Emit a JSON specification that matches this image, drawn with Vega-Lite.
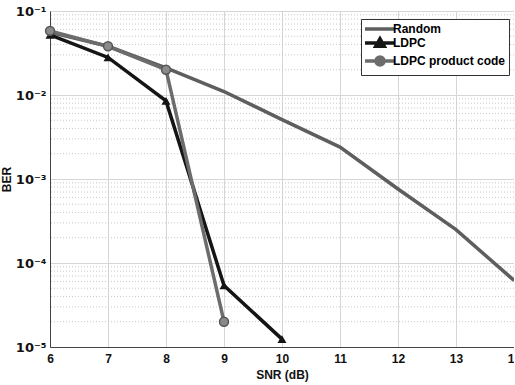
{
  "$schema": "https://vega.github.io/schema/vega-lite/v6.json",
  "autosize": "none",
  "padding": {"left": 50, "top": 11, "right": 0, "bottom": 38},
  "width": 464,
  "height": 336,
  "background": "white",
  "config": {
    "view": {"stroke": "#444", "strokeWidth": 1},
    "font": "Liberation Sans"
  },
  "datasets": {
    "ber": [
      {"snr": 6, "ber": 0.056, "series": "Random"},
      {"snr": 7, "ber": 0.038, "series": "Random"},
      {"snr": 8, "ber": 0.021, "series": "Random"},
      {"snr": 9, "ber": 0.011, "series": "Random"},
      {"snr": 10, "ber": 0.0051, "series": "Random"},
      {"snr": 11, "ber": 0.0024, "series": "Random"},
      {"snr": 12, "ber": 0.00076, "series": "Random"},
      {"snr": 13, "ber": 0.00025, "series": "Random"},
      {"snr": 14, "ber": 0.000062, "series": "Random"},
      {"snr": 6, "ber": 0.052, "series": "LDPC"},
      {"snr": 7, "ber": 0.028, "series": "LDPC"},
      {"snr": 8, "ber": 0.0085, "series": "LDPC"},
      {"snr": 9, "ber": 0.000054, "series": "LDPC"},
      {"snr": 10, "ber": 0.0000124, "series": "LDPC"},
      {"snr": 6, "ber": 0.058, "series": "LDPC product code"},
      {"snr": 7, "ber": 0.038, "series": "LDPC product code"},
      {"snr": 8, "ber": 0.020, "series": "LDPC product code"},
      {"snr": 9, "ber": 0.00002, "series": "LDPC product code"}
    ],
    "minor": [
      {"v": 0.00002}, {"v": 0.00003}, {"v": 0.00004}, {"v": 0.00005}, {"v": 0.00006}, {"v": 0.00007}, {"v": 0.00008}, {"v": 0.00009},
      {"v": 0.0002}, {"v": 0.0003}, {"v": 0.0004}, {"v": 0.0005}, {"v": 0.0006}, {"v": 0.0007}, {"v": 0.0008}, {"v": 0.0009},
      {"v": 0.002}, {"v": 0.003}, {"v": 0.004}, {"v": 0.005}, {"v": 0.006}, {"v": 0.007}, {"v": 0.008}, {"v": 0.009},
      {"v": 0.02}, {"v": 0.03}, {"v": 0.04}, {"v": 0.05}, {"v": 0.06}, {"v": 0.07}, {"v": 0.08}, {"v": 0.09}
    ]
  },
  "layer": [
    {
      "data": {"name": "minor"},
      "mark": {"type": "rule", "stroke": "#c8c8c8", "strokeWidth": 1, "strokeDash": [1, 2]},
      "encoding": {
        "y": {"field": "v", "type": "quantitative", "scale": {"type": "log", "domain": [0.00001, 0.1]}}
      }
    },
    {
      "data": {"name": "ber"},
      "mark": {"type": "line", "strokeWidth": 3.5, "clip": true},
      "encoding": {
        "x": {
          "field": "snr", "type": "quantitative",
          "scale": {"domain": [6, 14], "nice": false, "zero": false},
          "axis": {
            "title": "SNR (dB)", "values": [6, 7, 8, 9, 10, 11, 12, 13, 14], "format": "d",
            "grid": true, "gridColor": "#d6d6d6", "gridWidth": 1,
            "domainColor": "#444", "tickColor": "#444", "tickSize": 0,
            "labelFont": "Liberation Sans", "labelFontWeight": "bold", "labelFontSize": 12, "labelColor": "#111",
            "labelPadding": 6, "labelFlush": false, "labelOverlap": false,
            "titleFont": "Liberation Sans", "titleFontWeight": "bold", "titleFontSize": 12, "titleColor": "#111",
            "titlePadding": 5
          }
        },
        "y": {
          "field": "ber", "type": "quantitative",
          "scale": {"type": "log", "domain": [0.00001, 0.1]},
          "axis": {
            "title": "BER", "values": [0.00001, 0.0001, 0.001, 0.01, 0.1],
            "labelExpr": "datum.value >= 0.09 ? '10⁻¹' : datum.value >= 0.009 ? '10⁻²' : datum.value >= 0.0009 ? '10⁻³' : datum.value >= 0.00009 ? '10⁻⁴' : '10⁻⁵'",
            "grid": true, "gridColor": "#d6d6d6", "gridWidth": 1,
            "domainColor": "#444", "tickColor": "#444", "tickSize": 0,
            "labelFont": "DejaVu Sans", "labelFontWeight": "bold", "labelFontSize": 13, "labelColor": "#111",
            "labelPadding": 4, "labelFlush": false, "labelOverlap": false,
            "titleFont": "Liberation Sans", "titleFontWeight": "bold", "titleFontSize": 12, "titleColor": "#111",
            "titlePadding": 2
          }
        },
        "color": {
          "field": "series", "type": "nominal",
          "scale": {"domain": ["Random", "LDPC", "LDPC product code"], "range": ["#5e5e5e", "#151515", "#6c6c6c"]}
        },
        "order": {"field": "snr"}
      }
    },
    {
      "data": {"name": "ber"},
      "transform": [{"filter": "datum.series == 'LDPC'"}],
      "mark": {"type": "point", "shape": "triangle-up", "filled": true, "size": 80, "color": "#151515", "opacity": 1},
      "encoding": {
        "x": {"field": "snr", "type": "quantitative"},
        "y": {"field": "ber", "type": "quantitative"}
      }
    },
    {
      "data": {"name": "ber"},
      "transform": [{"filter": "datum.series == 'LDPC product code'"}],
      "mark": {"type": "point", "shape": "circle", "filled": true, "size": 80, "fill": "#8a8a8a", "stroke": "#555", "strokeWidth": 1.5, "opacity": 1},
      "encoding": {
        "x": {"field": "snr", "type": "quantitative"},
        "y": {"field": "ber", "type": "quantitative"}
      }
    },
    {
      "data": {"name": "ber"},
      "mark": {"type": "point", "filled": true, "size": 0},
      "encoding": {
        "x": {"field": "snr", "type": "quantitative"},
        "y": {"field": "ber", "type": "quantitative"},
        "color": {
          "field": "series", "type": "nominal",
          "legend": {
            "orient": "none", "legendX": 311, "legendY": 8, "title": null,
            "fillColor": "white", "strokeColor": "#333", "padding": 3,
            "labelFont": "Liberation Sans", "labelFontWeight": "bold", "labelFontSize": 12, "labelColor": "#000",
            "labelBaseline": "middle",
            "symbolSize": 100, "symbolStrokeWidth": 3.5, "symbolOpacity": 1, "symbolOffset": 9,
            "labelOffset": 6, "rowPadding": -6,
            "symbolStrokeColor": "#151515"
          }
        },
        "shape": {
          "field": "series", "type": "nominal",
          "scale": {
            "domain": ["Random", "LDPC", "LDPC product code"],
            "range": [
              "M-3,0H3",
              "M-3,0H3M0,-0.85L0.85,0.65L-0.85,0.65Z",
              "M-3,0H3M0.8,0L0.693,0.4L0.4,0.693L0,0.8L-0.4,0.693L-0.693,0.4L-0.8,0L-0.693,-0.4L-0.4,-0.693L0,-0.8L0.4,-0.693L0.693,-0.4Z"
            ]
          },
          "legend": {
            "orient": "none", "legendX": 311, "legendY": 8, "title": null,
            "fillColor": "white", "strokeColor": "#333", "padding": 3,
            "labelFont": "Liberation Sans", "labelFontWeight": "bold", "labelFontSize": 12, "labelColor": "#000",
            "labelBaseline": "middle",
            "symbolSize": 100, "symbolStrokeWidth": 3.5, "symbolOpacity": 1, "symbolOffset": 9,
            "labelOffset": 6, "rowPadding": -6,
            "symbolStrokeColor": "#151515"
          }
        }
      }
    }
  ]
}
